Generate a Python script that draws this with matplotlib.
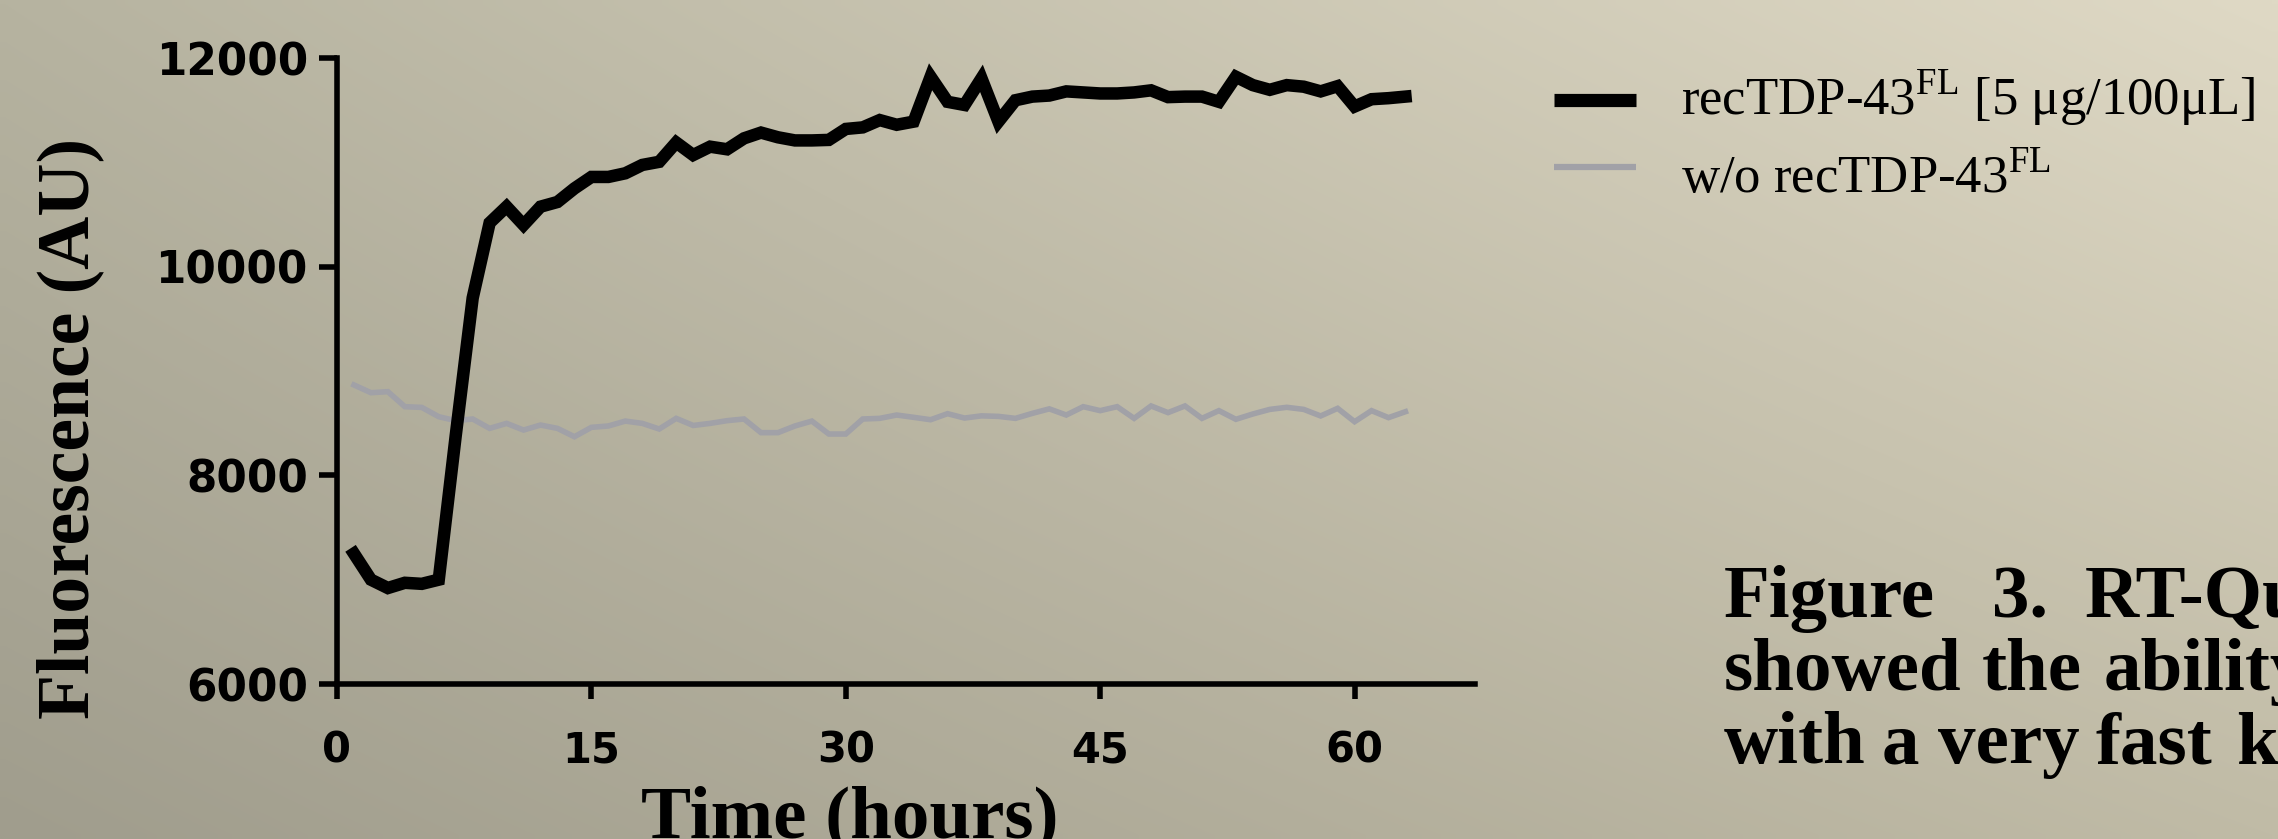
import numpy as np
import matplotlib.pyplot as plt
from matplotlib.lines import Line2D

# 画布尺寸（像素）
W, H = 2278, 839
DPI = 100

# 数据：时间（小时）与荧光强度（AU）
hours = list(range(1, 64))
rec_tdp = [7250, 7000, 6920, 6970, 6960, 7000, 8380, 9700, 10420, 10575,
           10400, 10575, 10620, 10750, 10860, 10860, 10895, 10975, 11005, 11190,
           11070, 11150, 11125, 11230, 11285, 11240, 11210, 11210, 11215, 11320,
           11335, 11405, 11360, 11390, 11820, 11580, 11550, 11805, 11390, 11595,
           11630, 11640, 11680, 11670, 11660, 11660, 11670, 11690, 11625, 11630,
           11630, 11580, 11820, 11740, 11695, 11740, 11725, 11680, 11730, 11535,
           11605, 11615, 11630]
no_tdp = [8866, 8792, 8802, 8658, 8651, 8562, 8524, 8540, 8450, 8498,
          8434, 8482, 8450, 8370, 8460, 8473, 8520, 8498, 8444, 8546,
          8478, 8498, 8524, 8540, 8409, 8409, 8473, 8520, 8396, 8396,
          8540, 8546, 8578, 8556, 8533, 8591, 8549, 8570, 8565, 8546,
          8594, 8637, 8578, 8658, 8620, 8658, 8546, 8665, 8601, 8665,
          8546, 8620, 8537, 8588, 8632, 8652, 8632, 8569, 8642, 8514,
          8620, 8553, 8610]

x_ticks = [0, 15, 30, 45, 60]
y_ticks = [6000, 8000, 10000, 12000]

label_rec = 'recTDP-43$^{\\mathrm{FL}}$ [5 μg/100μL]'
label_no = 'w/o recTDP-43$^{\\mathrm{FL}}$'
caption = [['Figure', '3.', 'RT-QuIC'],
           ['showed', 'the', 'ability'],
           ['with', 'a', 'very', 'fast', 'kinetics']]

plt.rcParams['mathtext.fontset'] = 'custom'
plt.rcParams['mathtext.rm'] = 'Liberation Serif'

fig = plt.figure(figsize=(W / DPI, H / DPI), dpi=DPI)


def fx(px):
    return px / W


def fy(py):
    return 1 - py / H


# 渐变背景
bg = fig.add_axes([0, 0, 1, 1], zorder=-10)
tl = np.array([182, 179, 160]) / 255
tr = np.array([223, 217, 197]) / 255
bl = np.array([160, 157, 141]) / 255
br = np.array([192, 187, 166]) / 255
u = np.linspace(0, 1, 200)[None, :, None]
v = np.linspace(0, 1, 100)[:, None, None]
grad = (1 - v) * ((1 - u) * tl + u * tr) + v * ((1 - u) * bl + u * br)
bg.imshow(grad, aspect='auto', extent=[0, 1, 0, 1], interpolation='bilinear')
bg.axis('off')

# 主图
ax = fig.add_axes([fx(337), fy(684), fx(1475 - 337), (684 - 58) / H])
ax.patch.set_alpha(0)
ax.plot(hours, no_tdp, color='#a1a1a7', lw=4, solid_joinstyle='miter')
ax.plot(hours, rec_tdp, color='black', lw=9, solid_joinstyle='miter')

ax.set_xlim(0, 67.1)
ax.set_ylim(6000, 12000)
ax.set_xticks(x_ticks)
ax.set_yticks(y_ticks)
for s in ['top', 'right']:
    ax.spines[s].set_visible(False)
for s in ['left', 'bottom']:
    ax.spines[s].set_linewidth(4)
ax.tick_params(axis='both', width=4, direction='out')
ax.tick_params(axis='x', length=11, pad=22)
ax.tick_params(axis='y', length=13, pad=8)
for lab in ax.get_yticklabels():
    lab.set_fontfamily('DejaVu Sans')
    lab.set_fontweight('bold')
    lab.set_fontsize(31.5)
for lab in ax.get_xticklabels():
    lab.set_fontfamily('DejaVu Sans')
    lab.set_fontweight('bold')
    lab.set_fontsize(30)

# 轴标题
fig.text(fx(70), fy(428), 'Fluorescence (AU)', rotation=90, ha='center',
         va='center', family='Liberation Serif', weight='bold', fontsize=53)
fig.text(fx(850), fy(837), 'Time (hours)', ha='center', va='baseline',
         family='Liberation Serif', weight='bold', fontsize=54)

# 图例
fig.add_artist(Line2D([fx(1554), fx(1636)], [fy(100), fy(100)],
                      color='black', lw=9.5, solid_capstyle='butt'))
fig.add_artist(Line2D([fx(1554), fx(1636)], [fy(167), fy(167)],
                      color='#a1a1a7', lw=4.5, solid_capstyle='butt'))
fig.text(fx(1681), fy(115), label_rec, va='baseline',
         family='Liberation Serif', fontsize=38)
fig.text(fx(1681), fy(192), label_no, va='baseline',
         family='Liberation Serif', fontsize=38)

# 图注（两端对齐，右侧被裁切）
word_x = [[1724, 1992, 2085],
          [1724, 1982, 2104],
          [1724, 1882, 1938, 2096, 2236]]
base_y = [617, 690, 763]
for words, xs, yb in zip(caption, word_x, base_y):
    for w, xp in zip(words, xs):
        fig.text(fx(xp), fy(yb), w, va='baseline', family='Liberation Serif',
                 weight='bold', fontsize=54)

fig.savefig('out.png', dpi=DPI)
